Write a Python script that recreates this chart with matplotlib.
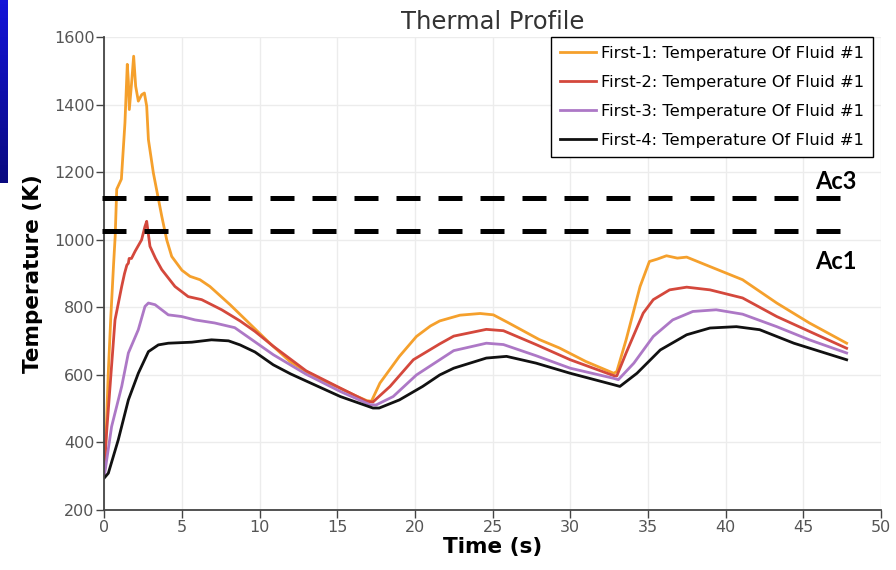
import matplotlib
matplotlib.use("Agg")
import matplotlib.pyplot as plt
from matplotlib.colors import LinearSegmentedColormap
import numpy as np

# series (time s, temperature K)
t1 = [0, 0.1, 0.25, 0.41, 0.6, 0.7, 0.8, 0.95, 1.1, 1.33, 1.48, 1.55, 1.61, 1.76, 1.89,
      2.02, 2.19, 2.41, 2.58, 2.73, 2.84, 3.16, 3.7, 4.02, 4.34, 5.0, 5.52, 6.16, 6.8,
      8.1, 9.4, 10.7, 12.0, 13.0, 14.0, 15.2, 16.2, 16.9, 17.2, 17.75, 19.0, 20.1, 21.0,
      21.6, 22.9, 24.2, 25.05, 26.0, 26.8, 28.0, 29.3, 31.0, 32.8, 33.0, 33.6, 34.5,
      35.1, 35.6, 36.2, 36.9, 37.5, 39.0, 41.1, 43.3, 45.4, 47.8]
T1 = [300, 400, 600, 763, 930, 1010, 1150, 1165, 1180, 1347, 1520, 1470, 1386, 1466, 1544,
      1455, 1411, 1430, 1435, 1396, 1297, 1198, 1070, 1000, 951, 910, 892, 882, 862,
      808, 750, 692, 638, 610, 585, 560, 538, 524, 522, 576, 655, 714, 745,
      760, 777, 782, 778, 755, 735, 705, 680, 640, 605, 610, 704, 862,
      936, 943, 953, 946, 949, 921, 882, 813, 754, 694]

t2 = [0, 0.1, 0.37, 0.69, 1.12, 1.3, 1.45, 1.55, 1.6, 1.75, 1.98, 2.4, 2.62, 2.73, 2.94,
      3.3, 3.7, 4.55, 5.4, 6.27, 7.56, 8.74, 9.7, 10.88, 13.0, 15.2, 16.9, 17.3, 18.4,
      19.9, 21.6, 22.5, 24.6, 25.7, 27.8, 30.0, 32.8, 33.0, 33.6, 34.7, 35.35, 36.4,
      37.5, 39.0, 41.1, 43.3, 45.4, 47.8]
T2 = [300, 400, 566, 763, 862, 900, 925, 931, 945, 945, 966, 1000, 1040, 1055, 981,
      945, 912, 862, 832, 823, 793, 760, 729, 685, 612, 561, 522, 520, 566,
      645, 692, 715, 735, 731, 690, 645, 598, 597, 665, 783, 823, 852,
      860, 852, 828, 773, 729, 679]

t3 = [0, 0.47, 1.12, 1.55, 2.19, 2.62, 2.84, 3.27, 4.12, 4.98, 5.84, 7.1, 8.4, 8.74,
      10.88, 13.0, 15.2, 17.1, 17.5, 18.6, 20.1, 21.6, 22.5, 24.6, 25.7, 27.8, 30.0,
      32.8, 33.1, 34.1, 35.35, 36.6, 37.9, 39.4, 41.1, 43.3, 45.4, 47.8]
T3 = [300, 447, 566, 665, 734, 803, 813, 808, 778, 773, 763, 754, 740, 729,
      660, 602, 551, 512, 511, 536, 600, 645, 672, 694, 690, 657, 620,
      590, 586, 635, 714, 763, 788, 793, 780, 743, 704, 665]

t4 = [0, 0.26, 0.9, 1.55, 2.19, 2.84, 3.48, 4.12, 5.63, 6.9, 8.0, 8.74, 9.7, 10.88,
      12.0, 13.0, 15.2, 17.3, 17.7, 19.0, 20.5, 21.6, 22.5, 24.6, 25.9, 27.8, 30.0,
      32.8, 33.2, 34.3, 35.8, 37.5, 39.0, 40.7, 42.2, 44.4, 47.8]
T4 = [295, 309, 408, 526, 605, 669, 689, 694, 697, 704, 701, 689, 668, 630,
      603, 582, 536, 502, 502, 526, 566, 600, 620, 650, 655, 635, 605,
      571, 566, 605, 674, 719, 739, 743, 734, 694, 645]

labels = ["First-1: Temperature Of Fluid #1", "First-2: Temperature Of Fluid #1",
          "First-3: Temperature Of Fluid #1", "First-4: Temperature Of Fluid #1"]
colors = ["#f5a02c", "#d4483c", "#ad78c6", "#111111"]

ac3 = 1125
ac1 = 1025

fig = plt.figure(figsize=(8.96, 5.70), dpi=100)
ax = fig.add_axes([104.3/896, 1 - 510/570, (880.8 - 104.3)/896, (510 - 37.3)/570])

for t, T, lab, c in zip([t1, t2, t3, t4], [T1, T2, T3, T4], labels, colors):
    ax.plot(t, T, color=c, lw=2.0, label=lab, solid_joinstyle="round")

# critical temperature lines
for y in [ac3, ac1]:
    ax.plot([-0.15, 47.4], [y, y], color="black", lw=3.6, dashes=(4.8, 3.6),
            clip_on=False, zorder=5)
ax.text(45.8, 1172, "Ac3", fontsize=17, fontweight="bold", family="Lato",
        va="center", ha="left")
ax.text(45.8, 935, "Ac1", fontsize=17, fontweight="bold", family="Lato",
        va="center", ha="left")

ax.set_xlim(0, 50)
ax.set_ylim(200, 1600)
ax.set_xticks(range(0, 51, 5))
ax.set_yticks(range(200, 1601, 200))
ax.grid(color="#ececec", lw=1)
ax.set_axisbelow(True)
for s in ["top", "right"]:
    ax.spines[s].set_visible(False)
for s in ["left", "bottom"]:
    ax.spines[s].set_color("#444444")
    ax.spines[s].set_linewidth(1.3)
ax.tick_params(length=6, width=1, color="#444444", labelcolor="#555555",
               labelsize=11.5, pad=1)

ax.set_title("Thermal Profile", fontsize=17.5, color="#333333", pad=6)
ax.set_xlabel("Time (s)", fontsize=15.5, fontweight="bold", labelpad=2)
ax.set_ylabel("Temperature (K)", fontsize=15.5, fontweight="bold", labelpad=8)

leg = ax.legend(loc="upper right", bbox_to_anchor=(873/896, 1 - 37/570),
                bbox_transform=fig.transFigure, borderaxespad=0, fancybox=False,
                edgecolor="black", framealpha=1, fontsize=11.8, handlelength=2.2,
                handletextpad=0.3, labelspacing=0.85, borderpad=0.55)
leg.get_frame().set_linewidth(1)

# slide background bits
bar = fig.add_axes([0, 1 - 183/570, 7/896, 183/570])
bar.imshow(np.linspace(0, 1, 50).reshape(-1, 1), aspect="auto",
           cmap=LinearSegmentedColormap.from_list("b", ["#1414d8", "#0a0a80"]))
bar.axis("off")

fig.savefig("out.png", dpi=100)
